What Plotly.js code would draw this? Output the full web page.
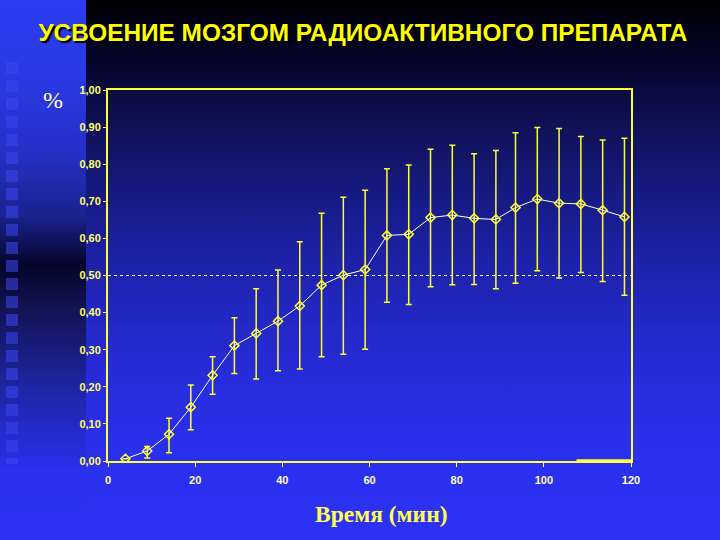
<!DOCTYPE html>
<html>
<head>
<meta charset="utf-8">
<script src="https://cdn.plot.ly/plotly-3.0.1.min.js"></script>
<style>
  html, body { margin: 0; padding: 0; width: 720px; height: 540px; overflow: hidden; }
  #stage { position: relative; width: 720px; height: 540px;
    background: linear-gradient(to bottom, #000004 0px, #05052a 60px, #10125a 130px, #181c8c 210px, #2126bc 300px, #282ddf 390px, #2b30ef 470px, #2c31f4 540px); }
  #leftcol { position: absolute; left: 0; top: 0; width: 86px; height: 540px;
    background: linear-gradient(to bottom, #2b3cf2 0px, #2a3ae6 70px, #2630c8 150px, #1c2290 215px, #04052a 265px, #121454 310px, #1f25a6 390px, #2a30ec 470px, #2c31f4 540px); }
  #squares { position: absolute; left: 6px; top: 62px; width: 12px; height: 402px;
    background: repeating-linear-gradient(to bottom, rgba(58,70,240,0.55) 0px, rgba(58,70,240,0.55) 12px, rgba(0,0,0,0) 12px, rgba(0,0,0,0) 18px); }
  #chart { position: absolute; left: 0; top: 0; width: 720px; height: 540px; }
</style>
</head>
<body>
<div id="stage">
  <div id="leftcol"></div>
  <div id="squares"></div>
  <div id="chart"></div>
</div>
<script>
// Time (min)
var timeMin = [4, 9, 14, 19, 24, 29, 34, 39, 44, 49, 54, 59, 64, 69, 74, 79, 84, 89, 93.5, 98.5, 103.5, 108.5, 113.5, 118.5];
// Mean uptake (fraction)
var uptake = [0.006, 0.027, 0.072, 0.145, 0.231, 0.311, 0.344, 0.377, 0.418, 0.474, 0.501, 0.516, 0.608, 0.611, 0.656, 0.663, 0.654, 0.651, 0.683, 0.706, 0.695, 0.693, 0.676, 0.658];
// Upper and lower error bar ends
var errHigh = [0.006, 0.039, 0.115, 0.205, 0.281, 0.386, 0.464, 0.515, 0.591, 0.668, 0.711, 0.730, 0.788, 0.798, 0.840, 0.851, 0.828, 0.837, 0.885, 0.899, 0.896, 0.875, 0.865, 0.870];
var errLow  = [0.006, 0.008, 0.022, 0.084, 0.180, 0.236, 0.221, 0.243, 0.248, 0.281, 0.288, 0.301, 0.428, 0.422, 0.470, 0.475, 0.476, 0.464, 0.479, 0.513, 0.493, 0.508, 0.484, 0.447];
var xTicks = [0, 20, 40, 60, 80, 100, 120];
var yTicks = [0, 0.1, 0.2, 0.3, 0.4, 0.5, 0.6, 0.7, 0.8, 0.9, 1.0];

var plus = uptake.map(function (v, i) { return Math.max(errHigh[i] - v, 0); });
var minus = uptake.map(function (v, i) { return Math.max(v - errLow[i], 0); });

var trace = {
  type: 'scatter',
  mode: 'lines+markers',
  x: timeMin,
  y: uptake,
  line: { color: '#ffffff', width: 1 },
  marker: { symbol: 'diamond-open', size: 7, color: '#ffff30', line: { color: '#ffff30', width: 1.5 } },
  error_y: { type: 'data', symmetric: false, array: plus, arrayminus: minus,
             color: '#ffff30', thickness: 1.5, width: 3, visible: true },
  hoverinfo: 'none',
  showlegend: false
};

var layout = {
  width: 720, height: 540,
  margin: { l: 108, r: 89, t: 90, b: 79 },
  paper_bgcolor: 'rgba(0,0,0,0)',
  plot_bgcolor: 'rgba(0,0,0,0)',
  separators: ', ',
  title: {
    text: 'УСВОЕНИЕ МОЗГОМ РАДИОАКТИВНОГО ПРЕПАРАТА',
    xref: 'container', yref: 'container', x: 0.504, y: 0.939,
    xanchor: 'center', yanchor: 'middle',
    font: { family: 'Liberation Sans Narrow, Liberation Sans, Arial, sans-serif', size: 24.4, weight: 'bold', color: '#ffff00', shadow: '2px 2px 1px #000000' }
  },
  xaxis: {
    range: [0, 120], tickvals: xTicks, ticktext: xTicks.map(String),
    showline: true, mirror: true, linecolor: '#ffff40', linewidth: 2,
    ticks: 'outside', ticklen: 4, tickwidth: 1, tickcolor: '#ffffa0',
    showgrid: false, zeroline: false,
    tickfont: { family: 'Liberation Sans, Arial, sans-serif', size: 11, weight: 'bold', color: '#ffffd0' },
    ticklabelstandoff: 4
  },
  yaxis: {
    range: [0, 1], tickvals: yTicks, tickformat: '.2f',
    showline: true, mirror: true, linecolor: '#ffff40', linewidth: 2,
    ticks: 'outside', ticklen: 3, tickwidth: 1, tickcolor: '#ffffa0',
    showgrid: false, zeroline: false,
    tickfont: { family: 'Liberation Sans Narrow, Liberation Sans, Arial, sans-serif', size: 11, weight: 'bold', color: '#ffff70' }
  },
  shapes: [
    { type: 'line', xref: 'paper', yref: 'y', x0: 0, x1: 1, y0: 0.5, y1: 0.5,
      line: { color: '#ffffff', width: 1, dash: 'dot' } },
    { type: 'line', xref: 'x', yref: 'y', x0: 107.5, x1: 120, y0: 0, y1: 0,
      line: { color: '#ffff40', width: 3.5 } }
  ],
  annotations: [
    { text: '%', xref: 'paper', yref: 'paper', x: -0.105, y: 0.973,
      xanchor: 'center', yanchor: 'middle', showarrow: false,
      font: { family: 'Liberation Serif, Times New Roman, serif', size: 24, color: '#ffffc0' } },
    { text: 'Время (мин)', xref: 'paper', yref: 'paper', x: 0.522, y: -0.143,
      xanchor: 'center', yanchor: 'middle', showarrow: false,
      font: { family: 'Liberation Serif, Times New Roman, serif', size: 23.5, weight: 'bold', color: '#ffff50' } }
  ]
};

Plotly.newPlot('chart', [trace], layout, { staticPlot: true, displayModeBar: false });
</script>
</body>
</html>
